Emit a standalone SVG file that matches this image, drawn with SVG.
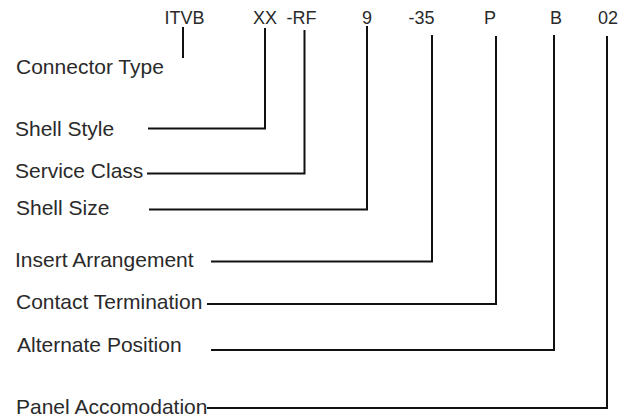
<svg xmlns="http://www.w3.org/2000/svg" width="629" height="417" viewBox="0 0 629 417">
<style>
.code{font-family:"Liberation Sans",Arial,sans-serif;font-size:18px;fill:#2a2a2a;text-anchor:middle}
.lbl{font-family:"Liberation Sans",Arial,sans-serif;font-size:21px;fill:#2a2a2a}
.ln{fill:none;stroke:#111;stroke-width:2}
</style>
<rect width="629" height="417" fill="#fff"/>
<g id="codes">
<text class="code" x="184.5" y="24">ITVB</text>
<text class="code" x="265" y="24">XX</text>
<text class="code" x="301.5" y="24">-RF</text>
<text class="code" x="367" y="24">9</text>
<text class="code" x="421.5" y="24">-35</text>
<text class="code" x="490" y="24">P</text>
<text class="code" x="556" y="24">B</text>
<text class="code" x="608" y="24">02</text>
</g>
<g id="n-connector-type"><text class="lbl" x="16" y="74">Connector Type</text></g>
<g id="n-shell-style"><text class="lbl" x="15" y="136">Shell Style</text></g>
<g id="n-service-class"><text class="lbl" x="15" y="178">Service Class</text></g>
<g id="n-shell-size"><text class="lbl" x="16" y="215">Shell Size</text></g>
<g id="n-insert-arrangement"><text class="lbl" x="15" y="267">Insert Arrangement</text></g>
<g id="n-contact-termination"><text class="lbl" x="16" y="309">Contact Termination</text></g>
<g id="n-alternate-position"><text class="lbl" x="17" y="352">Alternate Position</text></g>
<g id="n-panel-accomodation"><text class="lbl" x="16" y="414">Panel Accomodation</text></g>
<g id="connectors">
<path class="ln" d="M183 27V58"/>
<path class="ln" d="M265 28V128.5H148"/>
<path class="ln" d="M304.5 30V173.5H147"/>
<path class="ln" d="M367 26V209.5H149"/>
<path class="ln" d="M432 35V261.5H211"/>
<path class="ln" d="M496 36V304H207"/>
<path class="ln" d="M554 35V350H211"/>
<path class="ln" d="M607 36V408H207"/>
</g>
</svg>
